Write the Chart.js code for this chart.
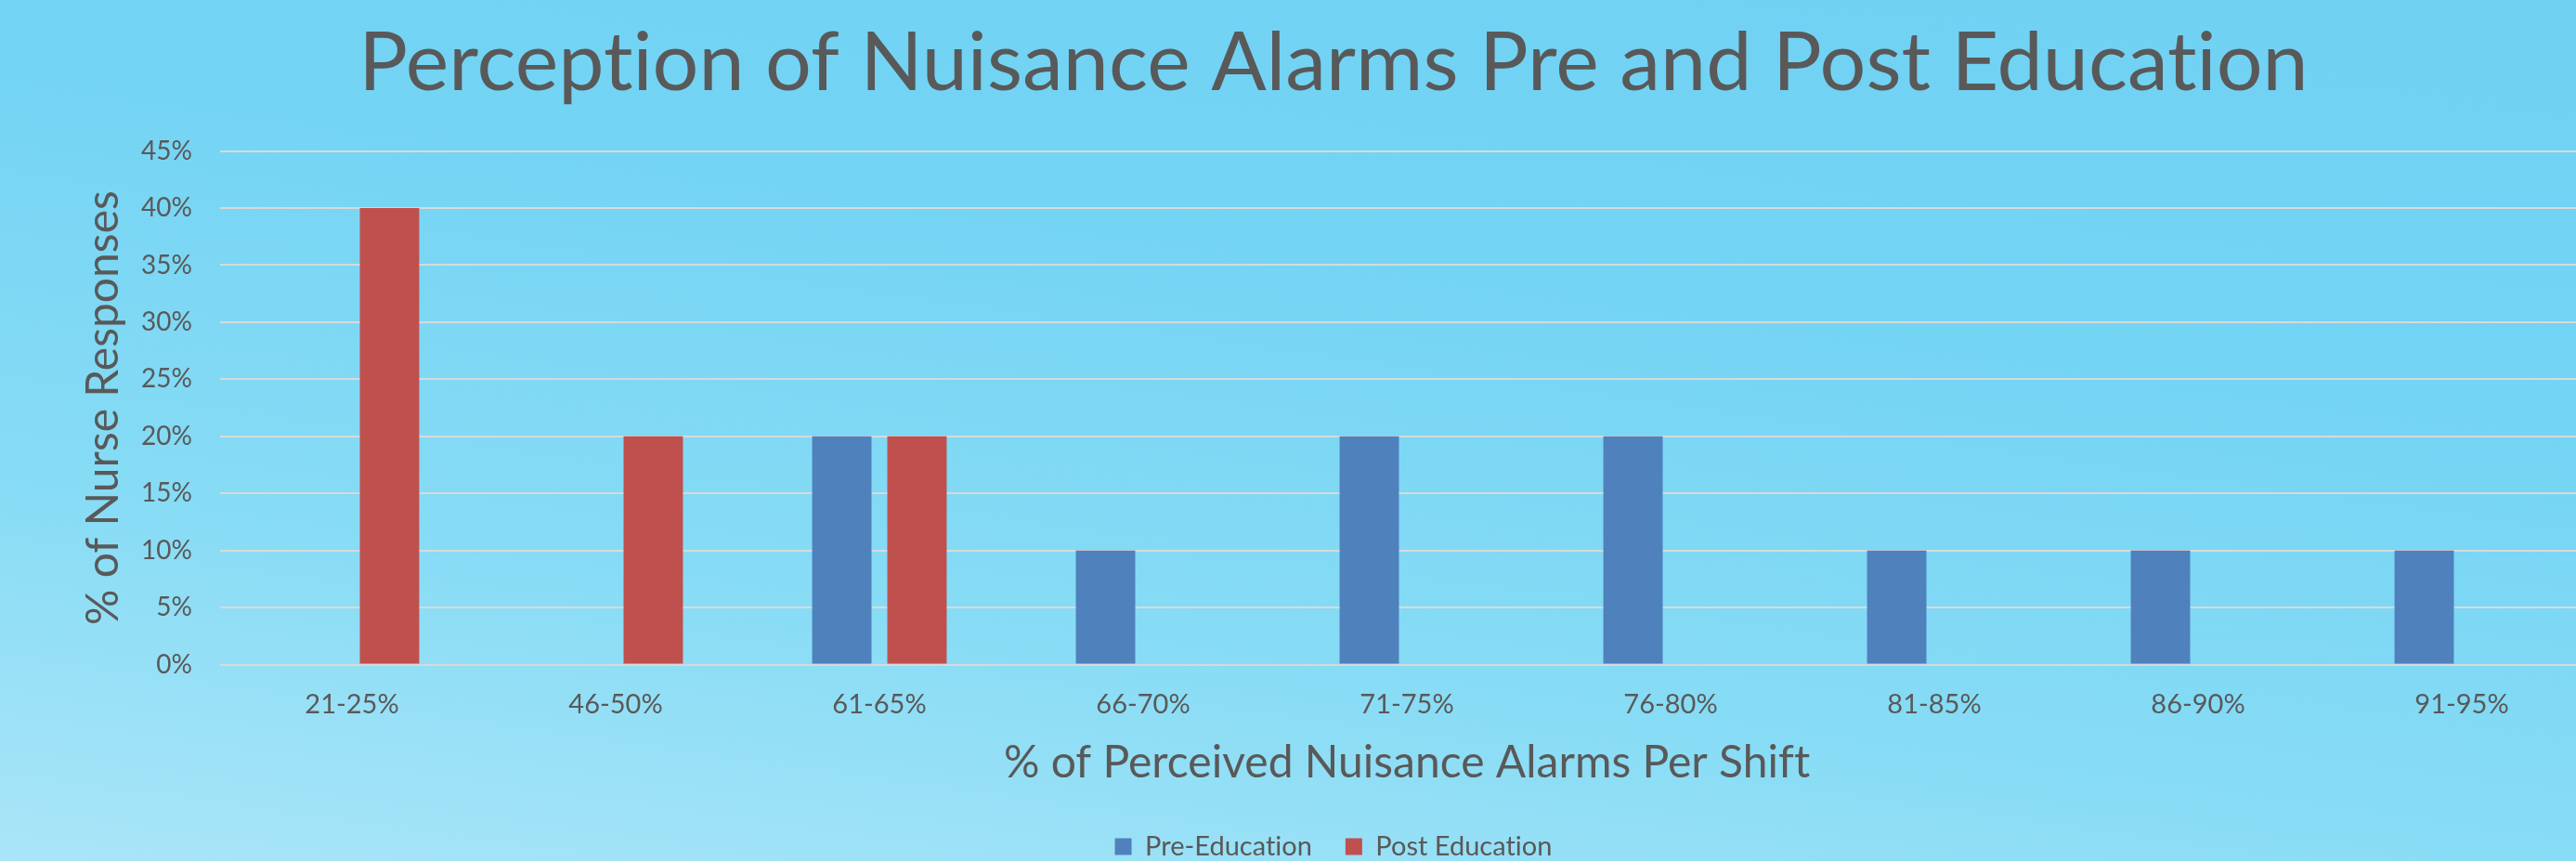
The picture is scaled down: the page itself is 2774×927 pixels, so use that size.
<!DOCTYPE html>
<html>
<head>
<meta charset="utf-8">
<script src="https://cdn.jsdelivr.net/npm/chart.js@4.4.1/dist/chart.umd.min.js"></script>
<style>
  html, body { margin: 0; padding: 0; overflow: hidden; }
  body {
    width: 2774px; height: 927px;
    background: linear-gradient(188deg, #70d1f3 0%, #74d4f4 35%, #88dcf5 70%, #aae5f8 100%);
  }
  #chart { display: block; }
</style>
</head>
<body>
<canvas id="chart" width="2793" height="936"></canvas>
<script>
  const categories = ['21-25%', '46-50%', '61-65%', '66-70%', '71-75%', '76-80%', '81-85%', '86-90%', '91-95%'];
  const preEducation = [0, 0, 20, 10, 20, 20, 10, 10, 10];
  const postEducation = [40, 20, 20, 0, 0, 0, 0, 0, 0];
  const yTicks = [0, 5, 10, 15, 20, 25, 30, 35, 40, 45];

  const textGrey = '#595959';
  const gridGrey = '#d9d9d9';
  const fontFamily = 'Lato, "Open Sans", sans-serif';

  // no "ti" ligatures (the original font has none)
  const plainText = {
    id: 'plainText',
    beforeLayout(chart) {
      chart.ctx.textRendering = 'optimizeSpeed';
    },
    beforeDraw(chart) {
      chart.ctx.textRendering = 'optimizeSpeed';
    },
  };

  new Chart(document.getElementById('chart'), {
    type: 'bar',
    data: {
      labels: categories,
      datasets: [
        { label: 'Pre-Education', data: preEducation, backgroundColor: '#4f81bd' },
        { label: 'Post Education', data: postEducation, backgroundColor: '#c0504d' },
      ],
    },
    options: {
      responsive: false,
      animation: false,
      devicePixelRatio: 1,
      categoryPercentage: 0.57,
      barPercentage: 0.79,
      layout: { padding: { left: 79, right: 0, top: 0, bottom: 0 } },
      scales: {
        x: {
          grid: { display: false, drawTicks: false },
          border: { display: false },
          ticks: { color: textGrey, font: { family: fontFamily, size: 29 }, padding: 26 },
          title: {
            display: true,
            text: '% of Perceived Nuisance Alarms Per Shift',
            color: textGrey,
            font: { family: fontFamily, size: 48 },
            padding: { top: -10, bottom: 11 },
          },
        },
        y: {
          min: 0,
          max: 45,
          afterBuildTicks: (scale) => { scale.ticks = yTicks.map(v => ({ value: v })); },
          afterFit: (scale) => { scale.width = 158; },
          grid: { color: gridGrey, lineWidth: 2, drawTicks: false },
          border: { display: false },
          ticks: {
            color: textGrey,
            font: { family: fontFamily, size: 28 },
            padding: 30,
            callback: (v) => v + '%',
          },
          title: {
            display: true,
            text: '% of Nurse Responses',
            color: textGrey,
            font: { family: fontFamily, size: 48 },
            padding: { top: 4, bottom: 0 },
          },
        },
      },
      plugins: {
        title: {
          display: true,
          text: 'Perception of Nuisance Alarms Pre and Post Education',
          color: textGrey,
          font: { family: fontFamily, size: 88, weight: 'normal' },
          padding: { top: 16, bottom: 41 },
        },
        legend: {
          position: 'bottom',
          labels: {
            color: textGrey,
            font: { family: fontFamily, size: 29 },
            boxWidth: 18,
            boxHeight: 18,
            padding: 36,
          },
        },
        tooltip: { enabled: false },
      },
    },
    plugins: [plainText],
  });
</script>
</body>
</html>
